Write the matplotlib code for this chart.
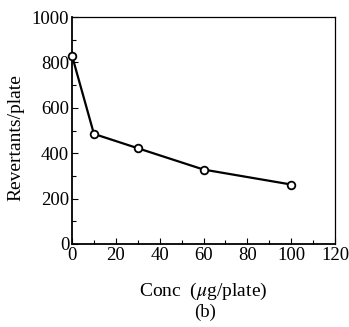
import numpy as np
import matplotlib.pyplot as plt
from matplotlib.ticker import MultipleLocator

conc = [0, 10, 30, 60, 100]
revertants = [830, 485, 422, 328, 262]

plt.rcParams['font.family'] = ['Liberation Serif', 'DejaVu Serif']
plt.rcParams['mathtext.fontset'] = 'stix'

fig = plt.figure(figsize=(3.49, 3.27), dpi=100)
ax = fig.add_axes([72/349, 1-244/327, (335-72)/349, (244-17)/327])

ax.plot(conc, revertants, '-o', color='black', linewidth=1.6,
        markersize=5.5, markerfacecolor='white', markeredgewidth=1.3,
        clip_on=False, zorder=3)

ax.set_xlim(0, 120)
ax.set_ylim(0, 1000)
ax.xaxis.set_major_locator(MultipleLocator(20))
ax.xaxis.set_minor_locator(MultipleLocator(10))
ax.yaxis.set_major_locator(MultipleLocator(200))
ax.yaxis.set_minor_locator(MultipleLocator(100))
ax.tick_params(which='both', direction='in', top=False, right=False,
               labelsize=13.5)
ax.tick_params(which='major', length=4, width=0.8, pad=2)
ax.tick_params(which='minor', length=3, width=0.8)
for s in ax.spines.values():
    s.set_linewidth(0.9)
ax.spines['bottom'].set_linewidth(1.3)
ax.spines['left'].set_linewidth(1.3)

ax.set_ylabel('Revertants/plate', fontsize=14)
ax.yaxis.set_label_coords(-0.18, 0.47)
ax.set_xlabel('Conc  ($\\mu$g/plate)', fontsize=14, labelpad=12)
fig.text(205/349, 1-312/327, '(b)', fontsize=13.5, ha='center', va='center')

fig.savefig('out.png', dpi=100)
